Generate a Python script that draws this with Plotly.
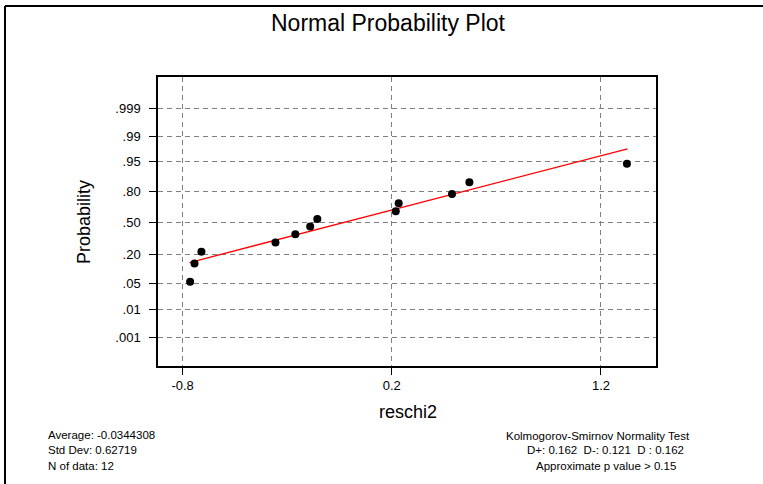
import plotly.graph_objects as go
from statistics import NormalDist

# ---- data ----
reschi2 = [-0.764, -0.743, -0.710, -0.356, -0.261, -0.190, -0.156,
           0.219, 0.233, 0.488, 0.571, 1.324]
probability = [0.056, 0.137, 0.218, 0.298, 0.379, 0.460, 0.540,
               0.621, 0.702, 0.782, 0.863, 0.944]
fit_x = [-0.767, 1.327]
fit_p = [0.142, 0.977]
prob_ticks = [0.001, 0.01, 0.05, 0.20, 0.50, 0.80, 0.95, 0.99, 0.999]
prob_tick_text = [".001", ".01", ".05", ".20", ".50", ".80", ".95", ".99", ".999"]
x_ticks = [-0.8, 0.2, 1.2]
x_tick_text = ["-0.8", "0.2", "1.2"]
stats_left = ["Average: -0.0344308", "Std Dev: 0.62719", "N of data: 12"]
stats_right = ["Kolmogorov-Smirnov Normality Test",
               "D+: 0.162  D-: 0.121  D : 0.162",
               "Approximate p value > 0.15"]

nd = NormalDist()
z = lambda p: nd.inv_cdf(p)

W, H = 763, 484
L, R, T, B = 158, 107, 77, 118
PW, PH = W - L - R, H - T - B
px = lambda x: (x - L) / PW
py = lambda y: (H - B - y) / PH

FONT = "Liberation Sans, Arial, sans-serif"

fig = go.Figure()
fig.add_trace(go.Scatter(x=fit_x, y=[z(p) for p in fit_p], mode="lines",
                         line=dict(color="#ff0000", width=1.3),
                         hoverinfo="skip", showlegend=False))
fig.add_trace(go.Scatter(x=reschi2, y=[z(p) for p in probability], mode="markers",
                         marker=dict(color="black", size=8),
                         showlegend=False))

grid = dict(showgrid=True, gridcolor="#808080", gridwidth=1, griddash="5px,4px",
            zeroline=False, showline=True, mirror=True, linecolor="black",
            linewidth=1.5, ticks="outside", ticklen=7, tickwidth=1,
            tickcolor="black", tickfont=dict(family=FONT, size=13, color="black"))

fig.update_xaxes(range=[-0.9175, 1.463], tickvals=x_ticks, ticktext=x_tick_text, **grid)
fig.update_yaxes(range=[-3.86, 3.93], tickvals=[z(p) for p in prob_ticks],
                 ticktext=prob_tick_text, ticklabelstandoff=6, **grid)

ann = []
ann.append(dict(x=px(388.5), y=py(23), xref="paper", yref="paper",
                text="Normal Probability Plot", showarrow=False,
                xanchor="center", yanchor="middle",
                font=dict(family=FONT, size=23, color="black")))
ann.append(dict(x=px(407.5), y=py(412), xref="paper", yref="paper",
                text="reschi2", showarrow=False, xanchor="center", yanchor="middle",
                font=dict(family=FONT, size=18, color="black")))
ann.append(dict(x=px(84), y=py(222), xref="paper", yref="paper",
                text="Probability", showarrow=False, textangle=-90,
                xanchor="center", yanchor="middle",
                font=dict(family=FONT, size=18, color="black")))
for i, (t, yy) in enumerate(zip(stats_left, [435, 450, 465.5])):
    ann.append(dict(x=px(46), y=py(yy), xref="paper", yref="paper", text=t,
                    showarrow=False, xanchor="left", yanchor="middle",
                    font=dict(family=FONT, size=11.5, color="black")))
for t, xx, yy in zip(stats_right, [598, 605.5, 606], [435.5, 450, 465.5]):
    ann.append(dict(x=px(xx), y=py(yy), xref="paper", yref="paper", text=t,
                    showarrow=False, xanchor="center", yanchor="middle",
                    font=dict(family=FONT, size=11.5, color="black")))

shapes = [
    dict(type="line", xref="paper", yref="paper", x0=px(5), x1=px(W + 2),
         y0=py(6), y1=py(6), line=dict(color="black", width=2)),
    dict(type="line", xref="paper", yref="paper", x0=px(5), x1=px(5),
         y0=py(6), y1=py(H + 2), line=dict(color="black", width=2)),
]

fig.update_layout(width=W, height=H, margin=dict(l=L, r=R, t=T, b=B),
                  paper_bgcolor="white", plot_bgcolor="white",
                  annotations=ann, shapes=shapes, showlegend=False)

fig.write_html("out.html")
